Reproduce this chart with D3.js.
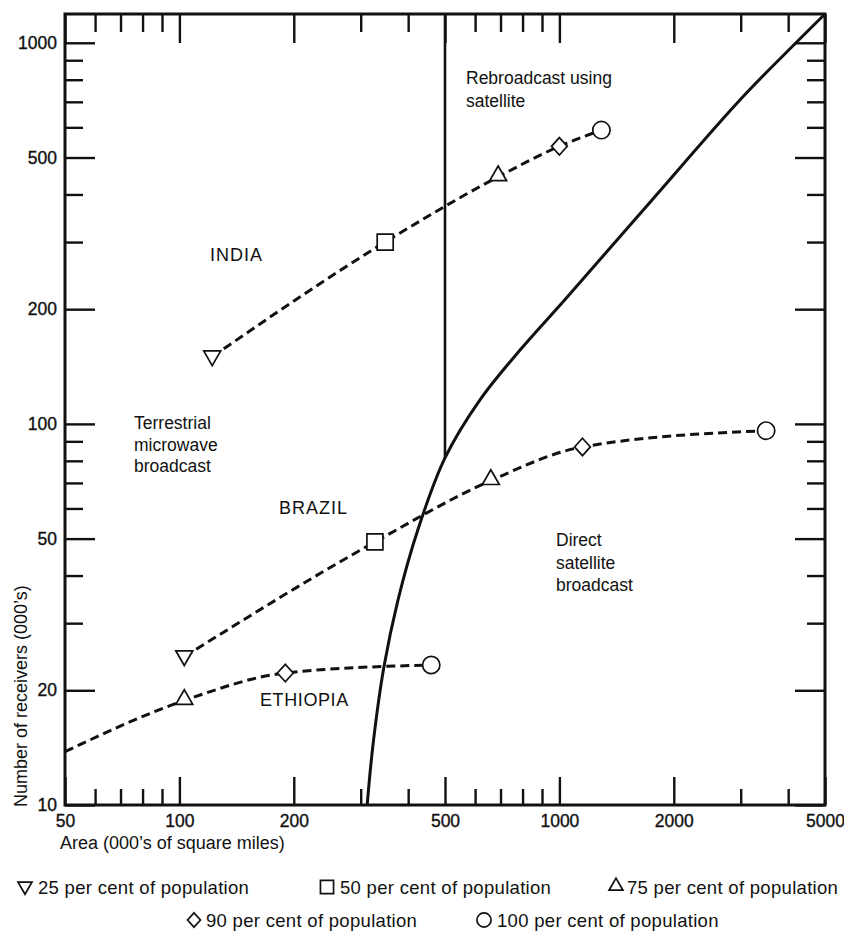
<!DOCTYPE html>
<html>
<head>
<meta charset="utf-8">
<script src="https://cdn.jsdelivr.net/npm/d3@7/dist/d3.min.js"></script>
<style>
  body { margin: 0; background: #fff; }
  text { font-family: "Liberation Sans", Arial, sans-serif; fill: #111; }
</style>
</head>
<body>
<div id="chart"></div>
<script>
// axis ticks
const xTicks = [50, 100, 200, 500, 1000, 2000, 5000];
const xMinor = [60, 70, 80, 90, 300, 400, 600, 700, 800, 900, 3000, 4000];
const yTicks = [10, 20, 50, 100, 200, 500, 1000];
const yMinor = [30, 40, 60, 70, 80, 90, 300, 400, 600, 700, 800, 900];

// country series (area, receivers) and marker for each point
const indiaX = [122, 348, 690, 1000, 1290];
const indiaY = [150, 300, 445, 535, 590];
const indiaMarks = ["down", "square", "up", "diamond", "circle"];

const brazilX = [103, 327, 660, 1150, 3500];
const brazilY = [24.5, 49, 71, 87, 96];
const brazilMarks = ["down", "square", "up", "diamond", "circle"];

const ethiopiaX = [50, 103, 190, 460];
const ethiopiaY = [13.8, 18.8, 22.2, 23.3];
const ethiopiaMarks = [null, "up", "diamond", "circle"];

// boundary between terrestrial and direct satellite broadcast
const boundaryX = [312, 323, 345, 376, 424, 500, 618, 787, 1035, 1753, 2986, 4220, 5000];
const boundaryY = [10, 14.3, 22.9, 34.5, 52.7, 81.4, 115.6, 156, 212, 387, 708, 1006, 1190];

// rebroadcast limit (vertical line)
const rebroadcastX = 500;
const rebroadcastY = [81.4, 1190];

const legendItems = [
  { mark: "down", label: "25 per cent of population" },
  { mark: "square", label: "50 per cent of population" },
  { mark: "up", label: "75 per cent of population" },
  { mark: "diamond", label: "90 per cent of population" },
  { mark: "circle", label: "100 per cent of population" }
];

const width = 844, height = 933;
const margin = { top: 14, right: 19, bottom: 128, left: 65 };

const svg = d3.select("#chart").append("svg")
  .attr("width", width)
  .attr("height", height);

const x = d3.scaleLog().domain([50, 5000]).range([margin.left, width - margin.right]);
const y = d3.scaleLog().domain([10, 1190]).range([height - margin.bottom, margin.top]);

const x0 = x.range()[0], x1 = x.range()[1];
const y0 = y.range()[0], y1 = y.range()[1];

// marker shapes
const diamond = {
  draw(ctx, size) {
    const r = Math.sqrt(size) / 2;
    ctx.moveTo(0, -r * 1.1);
    ctx.lineTo(r, 0);
    ctx.lineTo(0, r * 1.1);
    ctx.lineTo(-r, 0);
    ctx.closePath();
  }
};
const shapes = {
  down: { type: d3.symbolTriangle, size: 125, rot: 180, dy: -1 },
  up: { type: d3.symbolTriangle, size: 125, rot: 0, dy: -1 },
  square: { type: d3.symbolSquare, size: 256, rot: 0, dy: 0 },
  diamond: { type: diamond, size: 250, rot: 0, dy: 0 },
  circle: { type: d3.symbolCircle, size: 235, rot: 0, dy: 0 }
};

function drawMark(g, kind, px, py, scale) {
  const s = shapes[kind];
  g.append("path")
    .attr("d", d3.symbol().type(s.type).size(s.size * scale * scale)())
    .attr("transform", `translate(${px},${py + s.dy * scale}) rotate(${s.rot})`)
    .attr("fill", "#fff")
    .attr("stroke", "#111")
    .attr("stroke-width", 1.7);
}

// axes: ticks point inward on all four sides
function styleAxis(a) {
  a.select(".domain").remove();
  a.selectAll(".tick line").attr("stroke", "#111").attr("stroke-width", 2.4);
  a.selectAll("text")
    .style("font-size", "17.5px")
    .attr("fill", "#111")
    .attr("stroke", "#111")
    .attr("stroke-width", 0.35);
}

const fmt = d3.format("d");
styleAxis(svg.append("g").attr("transform", `translate(0,${y0})`)
  .call(d3.axisBottom(x).tickValues(xTicks).tickSize(-28).tickPadding(10).tickFormat(fmt)));
styleAxis(svg.append("g").attr("transform", `translate(0,${y0})`)
  .call(d3.axisBottom(x).tickValues(xMinor).tickSize(-16).tickFormat("")));
styleAxis(svg.append("g").attr("transform", `translate(0,${y1})`)
  .call(d3.axisTop(x).tickValues(xTicks).tickSize(-29).tickFormat("")));
styleAxis(svg.append("g").attr("transform", `translate(0,${y1})`)
  .call(d3.axisTop(x).tickValues(xMinor).tickSize(-18).tickFormat("")));

styleAxis(svg.append("g").attr("transform", `translate(${x0},0)`)
  .call(d3.axisLeft(y).tickValues(yTicks).tickSize(-30).tickPadding(8).tickFormat(fmt)));
styleAxis(svg.append("g").attr("transform", `translate(${x0},0)`)
  .call(d3.axisLeft(y).tickValues(yMinor).tickSize(-18).tickFormat("")));
styleAxis(svg.append("g").attr("transform", `translate(${x1},0)`)
  .call(d3.axisRight(y).tickValues(yTicks).tickSize(-30).tickFormat("")));
styleAxis(svg.append("g").attr("transform", `translate(${x1},0)`)
  .call(d3.axisRight(y).tickValues(yMinor).tickSize(-18).tickFormat("")));

// frame
svg.append("rect")
  .attr("x", x0).attr("y", y1)
  .attr("width", x1 - x0).attr("height", y0 - y1)
  .attr("fill", "none").attr("stroke", "#111").attr("stroke-width", 3);

// axis titles
svg.append("text")
  .attr("x", 60).attr("y", 849)
  .style("font-size", "18px")
  .text("Area (000\u2019s of square miles)");
svg.append("text")
  .attr("transform", `translate(27,${y0 + 2}) rotate(-90)`)
  .style("font-size", "18px")
  .text("Number of receivers (000\u2019s)");

// boundary curve and rebroadcast line
const plot = svg.append("g");
plot.append("path")
  .attr("d", d3.line().x((d, i) => x(boundaryX[i])).y(d => y(d)).curve(d3.curveCatmullRom.alpha(0.5))(boundaryY))
  .attr("fill", "none").attr("stroke", "#111").attr("stroke-width", 3);
plot.append("line")
  .attr("x1", x(rebroadcastX)).attr("x2", x(rebroadcastX))
  .attr("y1", y(rebroadcastY[0])).attr("y2", y(rebroadcastY[1]))
  .attr("stroke", "#111").attr("stroke-width", 2.6);

// country lines
function drawSeries(xs, ys, marks) {
  plot.append("path")
    .attr("d", d3.line().x((d, i) => x(xs[i])).y(d => y(d)).curve(d3.curveMonotoneX)(ys))
    .attr("fill", "none").attr("stroke", "#111").attr("stroke-width", 3)
    .attr("stroke-dasharray", "9,5");
  ys.forEach((v, i) => {
    if (marks[i]) drawMark(plot, marks[i], x(xs[i]), y(v), 1);
  });
}
drawSeries(indiaX, indiaY, indiaMarks);
drawSeries(brazilX, brazilY, brazilMarks);
drawSeries(ethiopiaX, ethiopiaY, ethiopiaMarks);

// region and country labels
function label(lines, px, py, size, spacing) {
  const t = svg.append("text").attr("x", px).attr("y", py).style("font-size", size + "px");
  lines.forEach((l, i) => t.append("tspan").attr("x", px).attr("dy", i ? spacing : 0).text(l));
  return t;
}
label(["Rebroadcast using", "satellite"], 466, 84, 17.5, 23);
label(["Terrestrial", "microwave", "broadcast"], 134, 429, 17.5, 21.5);
label(["Direct", "satellite", "broadcast"], 556, 546, 17.5, 22.5);
label(["INDIA"], 210, 261, 18, 0).style("letter-spacing", "1px");
label(["BRAZIL"], 279, 514, 18, 0).style("letter-spacing", "1px");
label(["ETHIOPIA"], 260, 706, 18, 0).style("letter-spacing", "0.6px");

// legend
const legendPos = [
  [25, 888, 38], [327, 888, 340], [616, 888, 627],
  [194, 921, 206], [484, 921, 497]
];
legendItems.forEach((d, i) => {
  const [mx, my, tx] = legendPos[i];
  drawMark(svg, d.mark, mx, my - 1, 0.82);
  svg.append("text")
    .attr("x", tx).attr("y", my + 6)
    .style("font-size", "18.5px")
    .style("letter-spacing", "0.3px")
    .text(d.label);
});
</script>
</body>
</html>
